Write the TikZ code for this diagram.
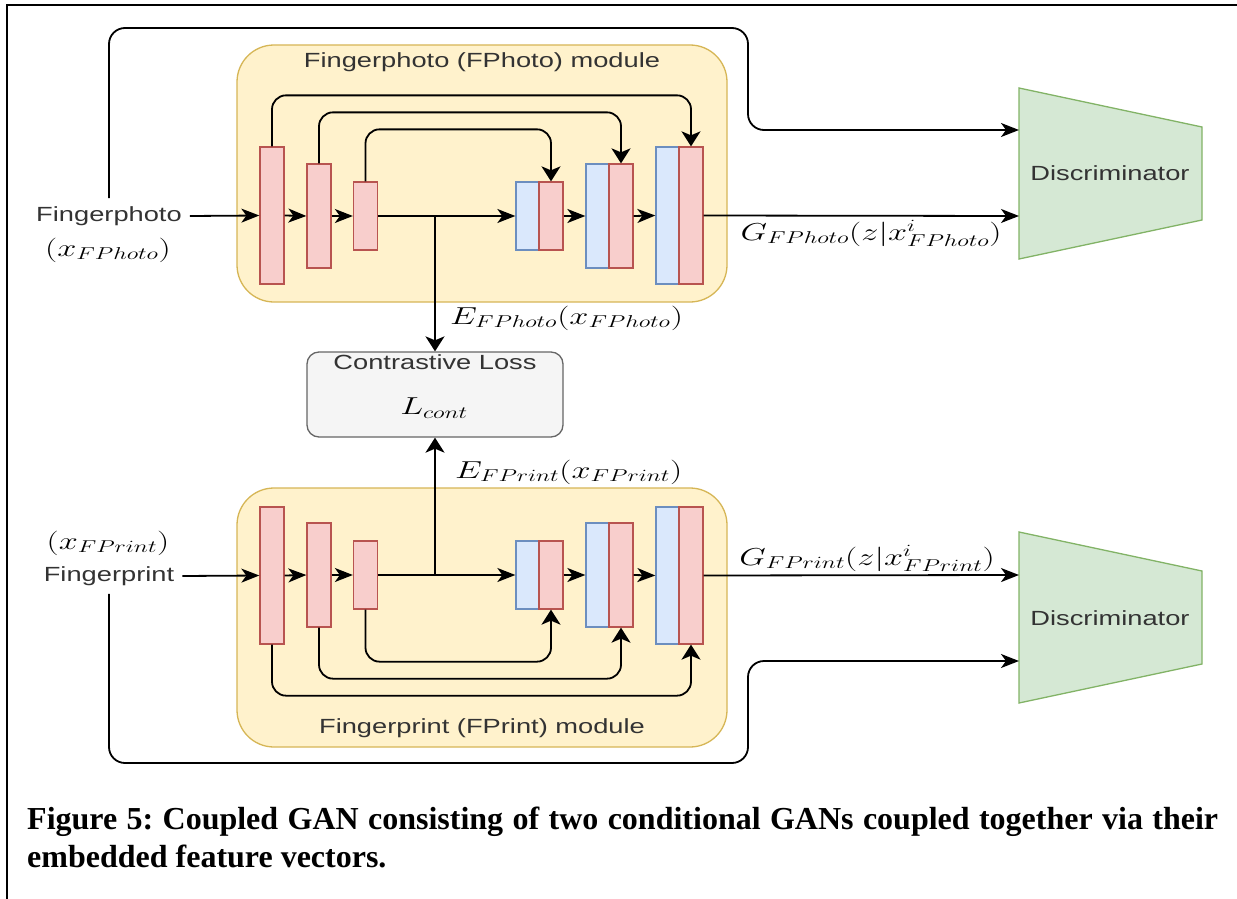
\RequirePackage{fix-cm}
\documentclass[tikz,border=0pt]{standalone}
\usepackage{fontspec}
\usepackage{graphicx}
\setmainfont{Liberation Serif}
\newfontfamily\dsans{Liberation Sans}
\usetikzlibrary{arrows.meta}
\definecolor{modfill}{HTML}{FFF2CC}
\definecolor{moddraw}{HTML}{D6B656}
\definecolor{redfill}{HTML}{F8CECC}
\definecolor{reddraw}{HTML}{B85450}
\definecolor{bluefill}{HTML}{DAE8FC}
\definecolor{bluedraw}{HTML}{6C8EBF}
\definecolor{greenfill}{HTML}{D5E8D4}
\definecolor{greendraw}{HTML}{82B366}
\definecolor{grayfill}{HTML}{F5F5F5}
\definecolor{graydraw}{HTML}{666666}
\definecolor{txt}{HTML}{333333}
\newcommand{\sanslbl}[1]{\scalebox{1.33}[1]{\dsans\fontsize{20.5}{24}\selectfont #1}}
\newcommand{\mathlbl}[1]{\scalebox{1.4}[1]{\fontsize{24.5}{29}\selectfont $#1$}}
\tikzset{
  module/.style={draw=moddraw, fill=modfill, line width=1.3pt, rounded corners=37pt, inner sep=0pt},
  enc/.style={draw=reddraw, fill=redfill, line width=1.3pt, minimum width=24pt, inner sep=0pt},
  dec/.style={draw=bluedraw, fill=bluefill, line width=1.3pt, minimum width=23pt, inner sep=0pt},
  conn/.style={line width=1.8pt, draw=black},
  harr/.style={conn, -{Stealth[length=18pt,width=14pt,inset=5pt]}},
  varr/.style={conn, -{Stealth[length=15pt,width=19pt,inset=4pt]}},
  lbl/.style={inner sep=0pt, text=txt},
  inlbl/.style={inner sep=8pt, text=txt},
  disc/.style={fill=greenfill, draw=greendraw, line width=1.3pt},
  lossbox/.style={draw=graydraw, fill=grayfill, line width=1.3pt, rounded corners=12pt, minimum width=256pt, minimum height=85pt, inner sep=0pt},
}
\begin{document}
\frenchspacing
\begin{tikzpicture}[x=1pt,y=-1pt]
\useasboundingbox (0,0) rectangle (1237,899);
% frame
\draw[line width=2.2pt] (7,910) -- (7,5) -- (1250,5);

% modules
\node[module, minimum width=490pt, minimum height=257pt] (mphoto) at (482,173.5) {};
\node[module, minimum width=490pt, minimum height=259pt] (mprint) at (482,617.5) {};
\node[lbl] (tphoto) at (482,62) {\sanslbl{Fingerphoto (FPhoto) module}};
\node[lbl] (tprint) at (482,728) {\sanslbl{Fingerprint (FPrint) module}};

% top generator blocks
\node[enc, minimum height=137pt] (pe1) at (272,215.5) {};
\node[enc, minimum height=104pt] (pe2) at (319,216) {};
\node[enc, minimum height=68pt]  (pe3) at (365.5,216) {};
\node[dec, minimum height=68pt]  (pdb1) at (527.5,216) {};
\node[enc, minimum height=68pt]  (pdr1) at (551,216) {};
\node[dec, minimum height=104pt] (pdb2) at (597.5,216) {};
\node[enc, minimum height=104pt] (pdr2) at (621,216) {};
\node[dec, minimum height=137pt] (pdb3) at (667.5,215.5) {};
\node[enc, minimum height=137pt] (pdr3) at (691,215.5) {};

% bottom generator blocks
\node[enc, minimum height=137pt] (qe1) at (272,575.5) {};
\node[enc, minimum height=104pt] (qe2) at (319,575) {};
\node[enc, minimum height=68pt]  (qe3) at (365.5,575) {};
\node[dec, minimum height=68pt]  (qdb1) at (527.5,575) {};
\node[enc, minimum height=68pt]  (qdr1) at (551,575) {};
\node[dec, minimum height=104pt] (qdb2) at (597.5,575) {};
\node[enc, minimum height=104pt] (qdr2) at (621,575) {};
\node[dec, minimum height=137pt] (qdb3) at (667.5,575.5) {};
\node[enc, minimum height=137pt] (qdr3) at (691,575.5) {};

% input labels
\node[inlbl] (lphoto) at (109,216) {\sanslbl{Fingerphoto}};
\node[lbl, text=black] (xphoto) at (108,250) {\mathlbl{(x_{FPhoto})}};
\node[inlbl] (lprint) at (109,576) {\sanslbl{Fingerprint}};
\node[lbl, text=black] (xprint) at (108,543) {\mathlbl{(x_{FPrint})}};

% discriminators
\filldraw[disc] (1019,88) -- (1202,127) -- (1202,220) -- (1019,259) -- cycle;
\filldraw[disc] (1019,532) -- (1202,571) -- (1202,664) -- (1019,703) -- cycle;
\node[lbl] (disc1) at (1110,173) {\sanslbl{Discriminator}};
\node[lbl] (disc2) at (1110,618) {\sanslbl{Discriminator}};
\coordinate (d1a) at (1019,130);
\coordinate (d1b) at (1019,216);
\coordinate (d2a) at (1019,661);
\coordinate (d2b) at (1019,575);

% contrastive loss
\node[lossbox] (cl) at (435,394.5) {};
\node[lbl] (cltitle) at (435,362) {\sanslbl{Contrastive Loss}};
\node[lbl, text=black] (clmath) at (434,408) {\mathlbl{L_{cont}}};

% top connectors
\draw[harr] (lphoto.east) -- (pe1.west);
\draw[harr] (pe1.east) -- (pe2.west);
\draw[harr] (pe2.east) -- (pe3.west);
\draw[harr] (pe3.east) -- (pdb1.west);
\draw[harr] (pdr1.east) -- (pdb2.west);
\draw[harr] (pdr2.east) -- (pdb3.west);
\draw[harr] (pdr3.east) -- (d1b);
\draw[varr, rounded corners=14pt] (pe1.north) -- ++(0,-51) -| (pdr3.north);
\draw[varr, rounded corners=14pt] (pe2.north) -- ++(0,-51) -| (pdr2.north);
\draw[varr, rounded corners=14pt] (pe3.north) -- ++(0,-52) -| (pdr1.north);
\coordinate (fbA) at (748,28);
\draw[harr, rounded corners=16pt] (lphoto.north) |- (fbA) -- (fbA |- d1a) -- (d1a);

% bottom connectors
\draw[harr] (lprint.east) -- (qe1.west);
\draw[harr] (qe1.east) -- (qe2.west);
\draw[harr] (qe2.east) -- (qe3.west);
\draw[harr] (qe3.east) -- (qdb1.west);
\draw[harr] (qdr1.east) -- (qdb2.west);
\draw[harr] (qdr2.east) -- (qdb3.west);
\draw[harr] (qdr3.east) -- (d2b);
\draw[varr, rounded corners=14pt] (qe1.south) -- ++(0,51) -| (qdr3.south);
\draw[varr, rounded corners=14pt] (qe2.south) -- ++(0,51) -| (qdr2.south);
\draw[varr, rounded corners=14pt] (qe3.south) -- ++(0,52) -| (qdr1.south);
\coordinate (fbB) at (748,763);
\draw[harr, rounded corners=16pt] (lprint.south) |- (fbB) -- (fbB |- d2a) -- (d2a);

% embeddings to loss
\coordinate (jp) at (cl.north |- pe3.east);
\coordinate (jq) at (cl.south |- qe3.east);
\draw[varr] (jp) -- (cl.north);
\draw[varr] (jq) -- (cl.south);
\node[lbl, text=black, anchor=west] (ephoto) at (450,318) {\mathlbl{E_{FPhoto}(x_{FPhoto})}};
\node[lbl, text=black, anchor=west] (eprint) at (455,472) {\mathlbl{E_{FPrint}(x_{FPrint})}};

% generator outputs
\node[lbl, text=black] (gphoto) at (871,233) {\mathlbl{G_{FPhoto}(z|x^{i}_{FPhoto})}};
\node[lbl, text=black] (gprint) at (867,558) {\mathlbl{G_{FPrint}(z|x^{i}_{FPrint})}};

% caption
\node[anchor=north west, text width=1191pt, align=justify, inner sep=0pt,
      font=\bfseries\fontsize{32}{38}\selectfont] (cap) at (27,807)
  {Figure 5: Coupled GAN consisting of two conditional GANs coupled together via their\linebreak embedded feature vectors.};
\end{tikzpicture}
\end{document}
